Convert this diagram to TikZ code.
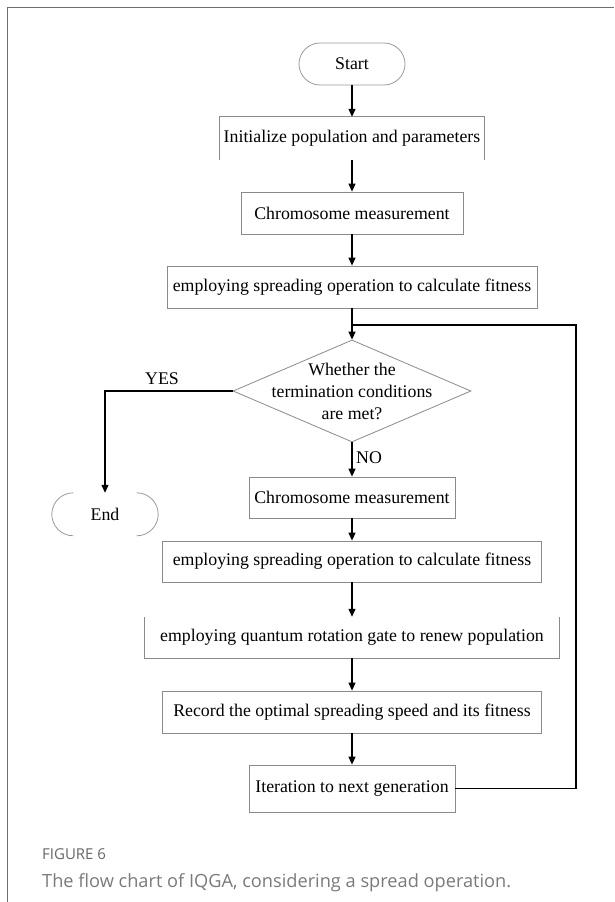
\documentclass[tikz,border=0pt]{standalone}
\usepackage{fontspec}
\setmainfont{Liberation Serif}
\newfontfamily\capfont{Open Sans}
\usetikzlibrary{shapes.geometric,arrows.meta}
\definecolor{boxgray}{HTML}{8A8A8A}
\definecolor{termgray}{HTML}{9A9A9A}
\definecolor{framegray}{HTML}{6E6E6E}
\definecolor{capgray}{HTML}{7A7A7A}
\definecolor{labgray}{HTML}{666666}
\tikzset{
  txt/.style={font=\fontsize{17.8}{22}\selectfont},
  box/.style={txt, draw=boxgray, line width=0.8pt, inner sep=0pt, minimum height=42pt},
  openbox/.style={txt, inner sep=0pt, minimum height=42pt},
  term/.style={box, draw=termgray, rounded corners=21pt, minimum width=106pt},
  decision/.style={diamond, draw=boxgray, line width=0.8pt, inner sep=0pt,
                   minimum width=238pt, minimum height=102pt},
  flow/.style={line width=1.2pt, -{Triangle[length=8pt,width=7pt]}},
  link/.style={line width=1.2pt},
  lbl/.style={txt, inner sep=0pt},
  edge3/.style={draw=boxgray, line width=0.8pt},
  capend/.style={draw=termgray, line width=0.8pt},
}
\begin{document}
\begin{tikzpicture}[x=1pt, y=-1pt]
\useasboundingbox (0,0) rectangle (614,902);

% outer frame (top and left rules only)
\draw[framegray, line width=1.3pt] (614,7.5) -- (7.5,7.5) -- (7.5,902);

% main column
\node[term] (start) at (352,64) {Start};
\node[openbox, minimum width=264pt, minimum height=43pt] (init) at (352,138.5) {Initialize population and parameters};
\draw[edge3] (init.south west) -- (init.north west) -- (init.north east) -- (init.south east);
\node[box, minimum width=222pt] (chrom1) at (352,213) {Chromosome measurement};
\node[box, minimum width=370pt] (spread1) at (352,287) {employing spreading operation to calculate fitness};

\node[decision] (dec) at (352,391) {};
\node[txt, align=center, inner sep=0pt] (dectext) at (352,391) {Whether the\\termination conditions\\are met?};

% terminal with only its rounded ends drawn
\node[openbox, minimum width=106pt, minimum height=43pt] (endn) at (105,514.5) {End};
\draw[capend] ([xshift=21.5pt]endn.north west) arc[start angle=90, end angle=270, radius=21.5pt];
\draw[capend] ([xshift=-21.5pt]endn.north east) arc[start angle=90, end angle=-90, radius=21.5pt];

\node[box, minimum width=206pt, minimum height=41pt] (chrom2) at (352,497.5) {Chromosome measurement};
\node[box, minimum width=379pt, minimum height=41pt] (spread2) at (352,561.5) {employing spreading operation to calculate fitness};
\node[openbox, minimum width=415pt, minimum height=41pt] (quant) at (352,637.5) {employing quantum rotation gate to renew population};
\draw[edge3] (quant.north west) -- (quant.south west) -- (quant.south east) -- (quant.north east);
\node[box, minimum width=379pt] (record) at (352,712) {Record the optimal spreading speed and its fitness};
\node[box, minimum width=206pt, minimum height=47pt] (iter) at (352,788.5) {Iteration to next generation};

% connectors
\draw[flow] (start) -- (init);
\draw[flow] (init) -- (chrom1);
\draw[flow] (chrom1) -- (spread1);
\draw[flow] (spread1) -- (dec);
\draw[flow] (dec.west) -| (endn.north);
\draw[flow] (dec.south) -- (chrom2.north);
\draw[flow] (chrom2) -- (spread2);
\draw[flow] (spread2) -- (quant.north);
\draw[flow] (quant) -- (record);
\draw[flow] (record) -- (iter);

% feedback loop into the column above the decision
\coordinate (join) at (352,325);
\coordinate (loopcorner) at (576,325);
\draw[link] (iter.east) -| (loopcorner) -- (join);

% branch labels
\node[lbl] (yes) at (162,379) {YES};
\node[lbl, anchor=west] (no) at (356,458) {NO};

% caption
\node[anchor=base west, inner sep=0pt, text=labgray, font=\capfont\fontsize{15}{17}\selectfont] (figlabel) at (42,859) {FIGURE 6};
\node[anchor=base west, inner sep=0pt, text=capgray, font=\capfont\fontsize{18.2}{21}\selectfont] (caption) at (42,887) {The flow chart of IQGA, considering a spread operation.};
\end{tikzpicture}
\end{document}
